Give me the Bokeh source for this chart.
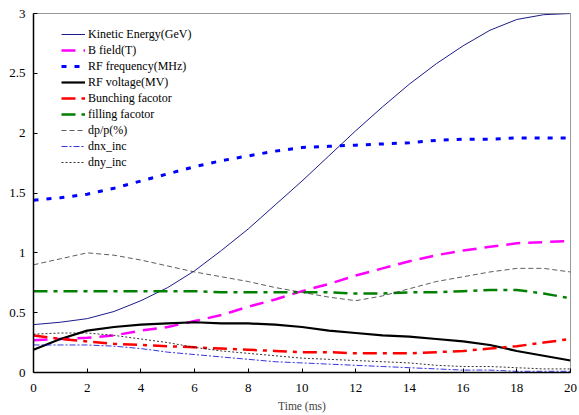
from bokeh.plotting import figure
from bokeh.models import Legend, LegendItem, FixedTicker
from bokeh.embed import file_html
from bokeh.resources import INLINE

time_ms = list(range(0, 21))
kinetic_energy = [0.40,0.42,0.45,0.51,0.60,0.71,0.85,1.02,1.20,1.40,1.60,1.81,2.02,2.22,2.41,2.58,2.73,2.86,2.95,2.99,3.00]
b_field = [0.27,0.28,0.29,0.31,0.35,0.38,0.43,0.48,0.55,0.61,0.68,0.74,0.81,0.87,0.93,0.98,1.02,1.05,1.08,1.09,1.10]
rf_freq = [1.44,1.46,1.49,1.54,1.60,1.66,1.72,1.77,1.81,1.85,1.88,1.89,1.90,1.91,1.92,1.94,1.95,1.95,1.96,1.96,1.96]
rf_volt = [0.19,0.28,0.35,0.38,0.40,0.41,0.42,0.41,0.41,0.40,0.38,0.35,0.33,0.31,0.30,0.28,0.26,0.23,0.18,0.14,0.10]
bunching = [0.31,0.28,0.26,0.24,0.23,0.22,0.21,0.20,0.19,0.18,0.17,0.17,0.16,0.16,0.16,0.17,0.18,0.20,0.22,0.25,0.28]
filling = [0.68,0.68,0.68,0.68,0.68,0.68,0.68,0.67,0.67,0.67,0.67,0.67,0.66,0.66,0.67,0.67,0.68,0.69,0.69,0.66,0.62]
dp_p = [0.90,0.95,1.00,0.98,0.94,0.89,0.84,0.80,0.76,0.71,0.67,0.63,0.60,0.64,0.70,0.76,0.80,0.84,0.87,0.87,0.84]
dnx_inc = [0.23,0.23,0.23,0.22,0.20,0.17,0.15,0.13,0.11,0.09,0.08,0.07,0.06,0.05,0.04,0.03,0.02,0.02,0.01,0.01,0.01]
dny_inc = [0.32,0.33,0.33,0.31,0.28,0.25,0.21,0.18,0.16,0.14,0.12,0.11,0.10,0.09,0.08,0.06,0.05,0.05,0.04,0.03,0.03]

x_ticks = [0, 2, 4, 6, 8, 10, 12, 14, 16, 18, 20]
y_ticks = [0, 0.5, 1, 1.5, 2, 2.5, 3]

FONT = "Liberation Serif"

p = figure(frame_width=537, frame_height=359, x_range=(0, 20), y_range=(0, 3),
           output_backend="svg", toolbar_location=None,
           min_border_left=33, min_border_right=8, min_border_top=13, min_border_bottom=30)
p.xgrid.visible = False
p.ygrid.visible = False
p.outline_line_color = "#999999"
p.outline_line_width = 1

for ax in (p.xaxis[0], p.yaxis[0]):
    ax.axis_line_color = "black"
    ax.axis_line_width = 1.5
    ax.major_tick_in = 4
    ax.major_tick_out = 0
    ax.minor_tick_in = 0
    ax.minor_tick_out = 0
    ax.major_tick_line_color = "black"
    ax.major_label_text_font = FONT
    ax.major_label_text_font_size = "13px"
    ax.major_label_text_color = "black"
p.xaxis.ticker = FixedTicker(ticks=x_ticks)
p.yaxis.ticker = FixedTicker(ticks=y_ticks)
p.yaxis.major_label_overrides = {0: "0", 0.5: "0.5", 1: "1", 1.5: "1.5", 2: "2", 2.5: "2.5", 3: "3"}
p.xaxis.axis_label = "Time (ms)"
p.xaxis.axis_label_text_font = FONT
p.xaxis.axis_label_text_font_style = "normal"
p.xaxis.axis_label_text_font_size = "11.5px"
p.xaxis.axis_label_standoff = 5
p.xaxis.major_label_standoff = 11
p.yaxis.major_label_standoff = 8

specs = [
    ("Kinetic Energy(GeV)", kinetic_energy, "#1c1c8a", 1.0, "solid"),
    ("B field(T)", b_field, "#ff00ff", 2.5, "14 8"),
    ("RF frequency(MHz)", rf_freq, "#0000ff", 3.0, "5 8"),
    ("RF voltage(MV)", rf_volt, "black", 2.2, "solid"),
    ("Bunching facotor", bunching, "#ff0000", 2.5, "14 6 4 6"),
    ("filling facotor", filling, "#008000", 2.5, "14 6 4 6"),
    ("dp/p(%)", dp_p, "#333333", 0.8, "5 3"),
    ("dnx_inc", dnx_inc, "#0000dd", 0.8, "6 2 2 2"),
    ("dny_inc", dny_inc, "black", 0.8, "2 2"),
]

items = []
for name, ys, color, w, dash in specs:
    r = p.line(time_ms, ys, line_color=color, line_width=w, line_dash=dash)
    items.append(LegendItem(label=name, renderers=[r]))

legend = Legend(items=items, location=(28, 202), orientation="vertical")
legend.border_line_color = None
legend.background_fill_alpha = 0
legend.padding = 0
legend.margin = 0
legend.spacing = 0
legend.label_height = 16
legend.glyph_height = 16
legend.glyph_width = 24
legend.label_standoff = 3
legend.label_text_font = FONT
legend.label_text_font_size = "12px"
legend.label_text_color = "black"
p.add_layout(legend, "center")

open("out.html", "w").write(file_html(p, INLINE))
